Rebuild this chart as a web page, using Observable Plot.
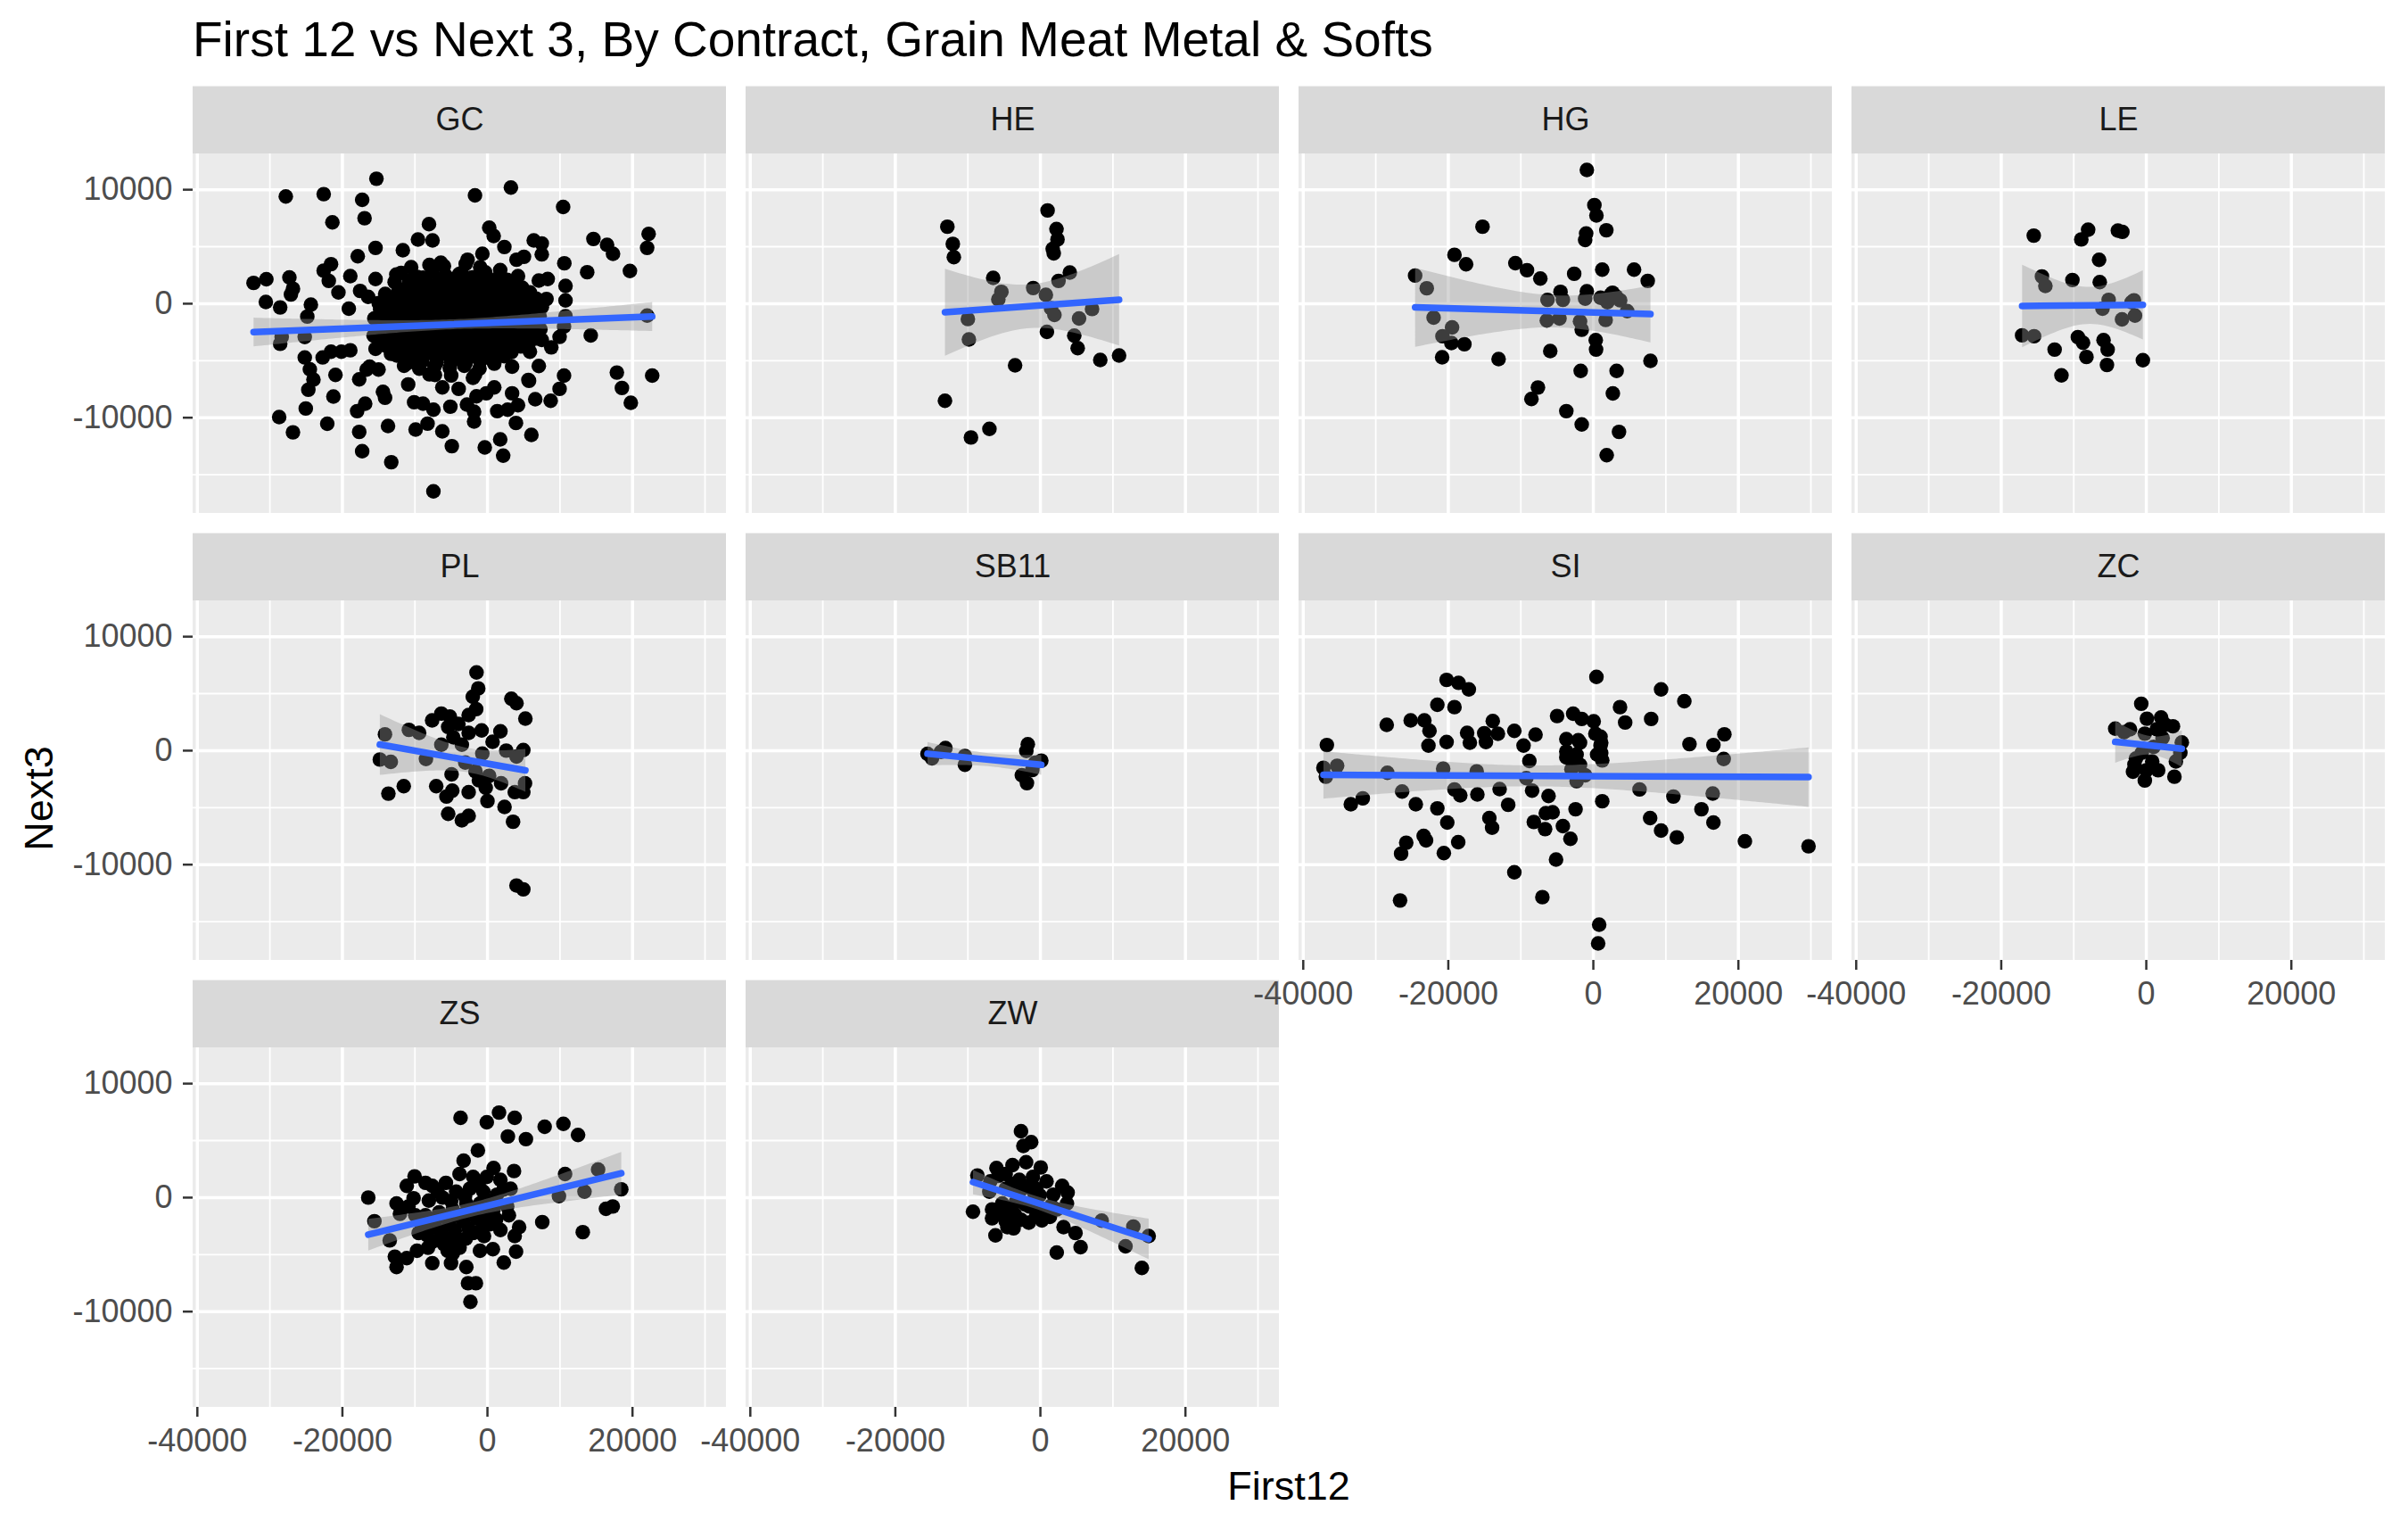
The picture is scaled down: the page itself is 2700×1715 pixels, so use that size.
<!DOCTYPE html>
<html>
<head>
<meta charset="utf-8">
<script src="https://cdn.jsdelivr.net/npm/d3@7"></script>
<script src="https://cdn.jsdelivr.net/npm/@observablehq/plot@0.6"></script>
<style>
  html, body { margin: 0; padding: 0; background: #ffffff; }
  #wrap { position: relative; width: 2700px; height: 1715px; font-family: "Liberation Sans", Arial, sans-serif; }
  #chart { position: absolute; left: 0; top: 0; }
  .title { position: absolute; left: 216px; top: 17px; font-size: 55px; line-height: 1; color: #000; white-space: nowrap; }
  .xlab { position: absolute; left: 1445px; top: 1643px; transform: translateX(-50%); font-size: 45px; line-height: 1; color: #000; white-space: nowrap; }
  .ylab { position: absolute; left: 43px; top: 895px; transform: translate(-50%, -50%) rotate(-90deg); font-size: 45px; line-height: 1; color: #000; white-space: nowrap; }
</style>
</head>
<body>
<div id="wrap">
  <div id="chart"></div>
  <div class="title">First 12 vs Next 3, By Contract, Grain Meat Metal &amp; Softs</div>
  <div class="xlab">First12</div>
  <div class="ylab">Next3</div>
</div>
<script>
// ---- Data: [First12, Next3] pairs per contract ----
const contracts = ["GC", "HE", "HG", "LE", "PL", "SB11", "SI", "ZC", "ZS", "ZW"];

const GC = [
  [-32250,1821],[-30486,2149],[-30557,149],[-28580,-328],[-27805,9403],[-27310,2298],[-26817,1313],[-27100,806],
  [-28370,-2925],[-28580,-3522],[-25193,-2925],[-25193,-4716],[-24488,-5761],[-24700,-7552],[-25052,-9194],
  [-28720,-9940],[-26817,-11283],[-22580,9612],[-21380,7134],[-22580,2896],[-21877,2000],[-24347,-90],[-24841,-1134],
  [-22723,-4716],[-22088,-10537],[-21240,-8149],[-23994,-6657],
  [-15308,10963],[-17273,9114],[-16945,7500],[-1719,9505],[3234,10182],[10437,8489],[-8063,6979],[246,6666],[860,5937],
  [-9578,5625],[-7572,5547],[6385,5547],[7490,5286],[7490,4323],[2333,4974],[-11665,4687],[-15430,4895],[-17886,4166],
  [-21570,3463],[10601,3541],[13753,2760],[14612,5677],[16495,5156],[17313,4375],[22225,6119],[22020,4895],[19646,2864],
  [22020,-1042],[14244,-2786],[17845,-6041],[18541,-7395],[19769,-8697],[22716,-6302],[8800,-3828],[9946,-2916],
  [10560,-2005],[10765,-1094],[10765,286],[10765,1562],[8145,417],[7081,2031],[8309,2161],[10560,-6302],[9946,-7473],
  [8718,-8515],[6590,-8385],[7081,-5468],[5730,-6770],[3929,-10468],[6058,-11510],[1760,-11900],[2169,-13332],
  [-368,-12603],[-1842,-10338],[-4912,-12499],[-7449,-16457],[-6221,-11197],[-8259,-10520],[-9905,-11041],
  [-13712,-10729],[-17682,-11249],[-17273,-12942],[-13262,-13905],[-17968,-9427],[-16863,-8775],[-14407,-7734],
  [-14121,-8255],[-17682,-6640],[-20956,-6250],[-21570,-4218],[-20138,-4218],[-18910,-4088],[-15430,-3958],
  [-15021,-5781],[-16249,-5520],[-10928,-7083],[-10110,-8645],[-8882,-8775],[-7449,-9296],[-5116,-9036],[-2824,-8853],
  [-1842,-9478],[-164,-7864],[1351,-9427],[2783,-9296],[4216,-8906],[5648,-6692],[-1719,-6250],[-3970,-7473],
  [-6221,-7343],[-10724,-4948],[-7245,-6250],[-16658,-5781],[-20547,990],[-19115,-443],[-18910,2422],
  [-17559,1120],[-16454,599],[-15430,2161],[-13794,-52],[-10519,3203],[-6426,3593],[-8882,2291],[-12566,2552],
  [-3561,2682],[-2742,3854],[-696,4375],[1760,2942],[4011,3854],[5034,4114],[4216,2422],[5853,990],[7695,208],
  [6672,-312],[3806,-573],[5853,-2135],[7490,-3177],[5853,-4218],[3397,-5520],[941,-5260],[3397,-7864],[941,-7343],
  [-1514,-8124],
  [-11900,2700],[-9700,2350],[-7600,2800],[-5800,2500],[-3900,2600],[-2100,2300],[-300,2750],[1700,2400],
  [-12800,1900],[-11000,1500],[-8900,1800],[-7200,1600],[-5400,1950],[-3500,1550],[-1700,1850],[200,1600],[2100,1750],[3900,1500],
  [-14100,850],[-12300,1100],[-10600,700],[-8700,1000],[-6900,800],[-5100,1050],[-3300,700],[-1500,950],[300,800],[2000,1000],[3800,700],[5400,950],
  [-15000,50],[-13300,300],[-11500,-100],[-9700,200],[-7900,-50],[-6100,250],[-4200,0],[-2400,200],[-600,-150],[1300,150],[3000,-100],[4700,200],[6300,0],
  [-14800,-500],[-13000,-850],[-11200,-600],[-9400,-800],[-7600,-550],[-5800,-900],[-4000,-650],[-2200,-800],[-400,-550],[1500,-850],[3200,-600],[5000,-750],[6600,-650],
  [-15600,-1300],[-13800,-1650],[-12000,-1400],[-10100,-1550],[-8300,-1350],[-6500,-1700],[-4700,-1450],[-2900,-1600],[-1100,-1350],[800,-1650],[2600,-1450],[4400,-1550],[6200,-1400],
  [-14300,-2450],[-12500,-2200],[-10700,-2350],[-8900,-2150],[-7100,-2500],[-5200,-2250],[-3400,-2400],[-1600,-2200],[200,-2450],[2000,-2300],[3800,-2150],[5700,-2400],[7300,-2250],
  [-15000,-2950],[-13100,-3250],[-11300,-3000],[-9500,-3150],[-7700,-2950],[-5800,-3250],[-4000,-3050],[-2200,-3200],[-300,-2950],[1500,-3150],[3300,-3000],[5100,-3200],[6800,-3050],
  [-13800,-3750],[-11900,-4050],[-10100,-3800],[-8300,-3950],[-6500,-3750],[-4600,-4050],[-2800,-3850],[-1000,-4000],[900,-3800],[2700,-3950],[4600,-3750],
  [-12500,-4550],[-10600,-4850],[-8800,-4600],[-7000,-4750],[-5200,-4550],[-3300,-4850],[-1500,-4650],[400,-4800],[2300,-4600],
  [-11500,-5450],[-9400,-5700],[-7300,-5500],[-5200,-5650],[-3200,-5450],[-1100,-5700],
  [-10800,2000],[-8600,2200],[-6700,2050],[-4800,2150],[-2900,1950],[-1000,2200],[800,2050],[2700,2100],
  [-11800,1200],[-9800,1400],[-8000,1250],[-6200,1350],[-4400,1200],[-2600,1400],[-700,1250],[1100,1300],[3000,1200],[4800,1400],
  [-13200,400],[-11400,600],[-9600,450],[-7800,550],[-6000,400],[-4200,600],[-2400,450],[-500,550],[1300,450],[3100,600],[4900,500],[6700,450],
  [-14100,-400],[-12200,-200],[-10300,-350],[-8500,-250],[-6700,-400],[-4900,-200],[-3100,-350],[-1300,-250],[500,-400],[2300,-200],[4100,-350],[5900,-250],[7500,-300],
  [-14500,-1200],[-12600,-1000],[-10800,-1150],[-9000,-1050],[-7100,-1200],[-5300,-1000],[-3500,-1150],[-1700,-1050],[100,-1200],[1900,-1000],[3700,-1150],[5500,-1050],[7200,-1100],
  [-15100,-2000],[-13200,-1800],[-11400,-1950],[-9600,-1850],[-7800,-2000],[-6000,-1800],[-4200,-1950],[-2300,-1850],[-500,-2000],[1300,-1800],[3100,-1950],[4900,-1850],[6700,-1900],
  [-15700,-2800],[-13900,-2600],[-12000,-2750],[-10200,-2650],[-8400,-2800],[-6600,-2600],[-4700,-2750],[-2900,-2650],[-1100,-2800],[700,-2600],[2500,-2750],[4300,-2650],[6200,-2700],
  [-14400,-3600],[-12600,-3400],[-10800,-3550],[-9000,-3450],[-7100,-3600],[-5300,-3400],[-3500,-3550],[-1700,-3450],[200,-3600],[2000,-3400],[3800,-3550],[5700,-3450],
  [-13300,-4400],[-11400,-4200],[-9600,-4350],[-7800,-4250],[-5900,-4400],[-4100,-4200],[-2300,-4350],[-400,-4250],[1500,-4400],[3300,-4250],
  [-11000,-5200],[-9000,-5050],[-7000,-5150],[-5000,-5100],[-3000,-5200],[-1000,-5050],[900,-5150],
  [-8000,3400],[-6000,3300],[-3000,3500],[-1000,3200],[-8000,-6200],[-5000,-6300],[-2000,-6500]
];

const HE = [
  [-12830,6752],[-12075,5246],[-11934,4077],[991,8181],[2217,6544],[2358,5636],[1698,4805],[1840,4415],[4057,2727],
  [2500,2000],[-6509,2260],[-5377,1039],[-5802,390],[-991,1376],[755,779],[1462,-390],[1934,-987],[7123,-467],
  [5330,-1299],[-10000,-1350],[-9858,-3142],[896,-2467],[4670,-2805],[5142,-3896],[8255,-4934],[10850,-4545],
  [-3491,-5402],[-13160,-8518],[-7028,-10985],[-9575,-11738]
];

const HG = [
  [-896,11738],[142,8648],[425,7739],[1792,6441],[-991,6155],[-1132,5584],[-15283,6752],[-19151,4285],[-17547,3454],
  [-10755,3558],[-9151,2935],[-7311,2208],[-2642,2623],[1226,2987],[5613,2987],[7500,2000],[-24575,2467],[-22972,1350],
  [-4528,1039],[-896,1091],[-6321,338],[-4198,338],[-1132,441],[991,519],[2642,961],[3113,649],[1934,130],[4670,-649],
  [-22028,-1221],[-6415,-1480],[-4670,-1299],[-1840,-1558],[1698,-1428],[-1604,-2285],[-19481,-2078],[-20802,-2857],
  [-19575,-3454],[-17783,-3558],[-20849,-4701],[-13066,-4856],[-5943,-4155],[330,-3194],[377,-4025],[7877,-5012],
  [-1745,-5895],[3208,-5895],[-7641,-7350],[-8538,-8362],[2689,-7869],[-3726,-9427],[-1604,-10596],[3538,-11245],
  [1840,-13297],[2400,800],[3700,300]
];

const LE = [
  [-15519,5973],[-8019,6493],[-8962,5636],[-3915,6415],[-3300,6300],[-6509,3844],[-14387,2389],[-13915,1558],[-10189,2078],
  [-6415,1896],[-5189,338],[-6038,-441],[-2028,130],[-1557,-1039],[-3349,-1376],[-17123,-2779],[-15472,-2857],
  [-9434,-2935],[-8726,-3428],[-12641,-4025],[-5896,-3194],[-5330,-4025],[-8255,-4675],[-5425,-5376],[-472,-4960],
  [-11698,-6285],[-1700,300]
];

const PL = [
  [-1507,6864],[-1272,5460],[-2025,4732],[-1554,3640],[-2590,3120],[3297,4550],[4004,4160],[5228,2808],[-6359,3250],
  [-5181,2990],[-7630,2652],[-5417,2080],[-4004,2340],[-4710,1170],[-2590,1560],[-801,1768],[1790,1690],[707,780],
  [-10833,1820],[-9420,1560],[-14130,1430],[2591,0],[4945,52],[4004,-520],[-8478,-728],[-14837,-780],[-13330,-988],
  [-4946,-2080],[-1178,-2600],[236,-2210],[1884,-2860],[5181,-2860],[-11540,-3120],[-13660,-3770],[-7065,-3120],
  [-5652,-4030],[-4851,-3510],[-2590,-3640],[-236,-3250],[0,-4420],[2355,-4940],[3768,-3640],[4945,-3640],
  [-5417,-5538],[-3533,-6110],[-2590,-5720],[3532,-6240],[4004,-11830],[4945,-12168],[-6359,520],[-3062,-1040],
  [-3533,520],[-1649,-1820],[-707,-260]
];

const SB11 = [
  [-15570,-283],[-14950,-668],[-13092,231],[-13712,-103],[-10408,-463],[-10408,-1234],[-1735,565],[-1941,-26],
  [124,-874],[-1115,-1696],[-2561,-2159],[-1859,-2853],[-702,-1054]
];

const SI = [
  [-20236,6207],[-18585,5947],[-17170,5376],[425,6467],[9340,5376],[12547,4337],[-21510,4025],[-19151,3818],[3679,3818],
  [4387,2467],[7972,2779],[-5000,3038],[-2783,3246],[-1604,2779],[47,2571],[-28491,2259],[-25189,2649],[-23302,2649],
  [-22594,1740],[-13868,2597],[-17406,1558],[-15047,1532],[-13160,1480],[-10896,1740],[-7972,1402],[-22736,441],
  [-20236,753],[-17028,701],[-14811,753],[-9623,441],[-3726,1013],[-2075,909],[283,1480],[991,441],[13255,571],
  [16557,493],[18066,1428],[17972,-727],[-36745,493],[-37217,-1506],[-35330,-1324],[-28397,-1948],[-20708,-1584],
  [-16085,-1818],[-8821,-909],[-9245,-2415],[-3726,-597],[-1840,-1247],[-2311,-2675],[-1132,-2156],[1226,-857],
  [-26368,-3584],[-31792,-4181],[-33443,-4701],[-24481,-4701],[-21510,-5064],[-20142,-6311],[-19151,-3402],
  [-18349,-3922],[-15991,-3844],[-12924,-3376],[-11745,-4753],[-14340,-5921],[-13962,-6752],[-8443,-3506],
  [-6179,-3973],[-8207,-6259],[-6557,-5480],[-5613,-5402],[-6651,-6882],[-4198,-6622],[-3160,-7739],[-2453,-5142],
  [1226,-4441],[6368,-3402],[11038,-4025],[7830,-5921],[9340,-7012],[11509,-7609],[14906,-5142],[16557,-6311],
  [16462,-3766],[20896,-7947],[29670,-8388],[-25802,-8077],[-26509,-9038],[-23066,-7869],[-23396,-7480],
  [-20613,-8986],[-18632,-8025],[-5142,-9557],[-10896,-10674],[-7028,-12855],[-26651,-13141],[802,-15270],
  [660,-16906],[-3019,-1636],[-2311,-338],[1085,-208],[1085,701],[-36887,-2285],
  [-3726,-78],[-2783,-857],[-1840,701],[519,-338],[991,1220]
];

const ZC = [
  [-694,4112],[82,2801],[2041,2904],[3674,2133],[-4286,1928],[-2245,1876],[-204,1491],[1429,1876],[2245,1105],
  [4898,720],[4694,-180],[4082,-951],[-1429,-694],[816,-951],[-1633,-1208],[-1837,-1850],[0,-1722],[1633,-1722],
  [-204,-2621],[3878,-2287],[-3061,1619],[2653,2262],[-612,-180],[1020,334]
];

const ZS = [
  [-3709,6993],[-94,6605],[1596,7459],[3756,6993],[2817,5361],[5305,5128],[7888,6216],[10470,6475],[12489,5491],
  [-1315,4144],[-3287,3238],[3662,2331],[845,2590],[10705,2072],[15259,2461],[18451,725],[13381,518],[9860,130],
  [17278,-777],[16339,-984],[7559,-2150],[13146,-3030],[-16433,0],[-15588,-2072],[-13474,-3756],[-12770,-5180],
  [-12535,-6087],[-11126,-5310],[-7606,-5750],[-5024,-5750],[-2911,-6087],[-2676,-7511],[-1596,-7511],[-2348,-9143],
  [751,-4532],[2254,-5698],[3944,-4740],[3756,-3367],[4366,-2590],[-470,-3367],[-10047,1865],[-11126,1036],
  [-10187,-52],[-12535,-518],[-12066,-1425],[-9484,-3108],[-9719,-4662],[-5493,-4662],[-4319,-3885],
  [-7606,1036],[-5728,1295],[-3850,2072],[-1972,1813],[-94,1813],[1784,1554],[3193,777],[-8076,-259],[-6197,0],
  [-4319,518],[-2441,777],[-563,518],[1315,259],[2723,-777],[-8545,-1554],[-6667,-1295],[-4789,-1036],[-2911,-518],
  [-1033,-518],[845,-1036],[-9014,-2590],[-7136,-2590],[-5258,-2331],[-3380,-2072],[-1502,-1813],[376,-2331],
  [1784,-2849],[-7606,-3885],[-5728,-3626],[-3850,-4403],[-1972,-3108],[-4789,-4921],[-9954,-1554],[-10893,-777],
  [-8545,1295],[2958,-1554],[-1033,-4662],
  [-6900,600],[-5000,-300],[-3100,100],[-1200,1100],[600,-300],[2200,700],[-7800,-1900],[-5900,-1700],[-4000,-1500],
  [-2200,-1200],[-300,-1500],[1200,-1900],[-8300,-3300],[-6400,-3100],[-4500,-2900],[-2600,-2700],[-700,-2600],
  [-3000,-3600],[-6000,-4100],[-8200,-4400]
];

const ZW = [
  [-2676,5828],[-1268,4869],[-2348,4533],[-6057,2590],[-3850,2849],[-1972,3108],[47,2642],[-8686,1943],[-6902,1425],
  [-4789,2072],[-2911,1554],[-1033,1813],[845,1425],[3005,1036],[3756,440],[-7042,518],[-4789,777],[-2911,518],
  [-563,777],[1784,259],[-9296,-1243],[-6667,-1036],[-5258,-518],[-3380,-388],[-1502,-777],[376,-1425],[2254,-1036],
  [-6667,-1813],[-4789,-2072],[-2676,-1943],[-563,-1554],[1315,-1684],[3193,-2590],[-6197,-3315],[-4554,-2590],
  [4836,-3108],[5540,-4351],[2254,-4817],[8451,-2020],[12817,-2538],[14930,-3367],[11738,-4273],[13991,-6164],
  [3662,-518],
  [-5800,1900],[-3900,1200],[-2000,900],[-100,200],[-4000,-1000],[-2100,-600],[-300,-900],[1500,-700],[-5500,-1400],
  [-3500,-1500],[-1600,-2200],[200,-2000],[-3700,-2700],[-800,300]
];

// Axis ticks (ggplot breaks)
const xTicks = [-40000, -20000, 0, 20000];
const xMinorTicks = [-30000, -10000, 10000, 30000];
const yTicks = [-10000, 0, 10000];
const yMinorTicks = [-15000, -5000, 5000];

// Scale limits (data range plus ggplot's 5% expansion)
const xDomain = [-40590, 32950];
const yDomain = [-18398, 13141];

// ---- Build table for Plot ----
const seriesByContract = {GC, HE, HG, LE, PL, SB11, SI, ZC, ZS, ZW};
const panels = contracts.map((c, i) => ({contract: c, col: i % 4, row: Math.floor(i / 4)}));
const points = panels.flatMap(p =>
  seriesByContract[p.contract].map(([x, y]) => ({contract: p.contract, col: p.col, row: p.row, First12: x, Next3: y}))
);

const fmt = d => String(d);
const textColor = "#4d4d4d";

const chart = Plot.plot({
  width: 2700,
  height: 1715,
  marginTop: 171.1,
  marginBottom: 136.2,
  marginLeft: 215.3,
  marginRight: 24.6,
  style: {fontFamily: "'Liberation Sans', Arial, sans-serif", fontSize: "36px", background: "transparent", overflow: "visible"},
  x: {domain: xDomain, label: null},
  y: {domain: yDomain, label: null},
  fx: {domain: [0, 1, 2, 3], paddingInner: 0.0353, paddingOuter: 0, axis: null, label: null},
  fy: {domain: [0, 1, 2], paddingInner: 0.1958, paddingOuter: 0, axis: null, label: null},
  marks: [
    // panel background
    Plot.rect(panels, {fx: "col", fy: "row", x1: () => xDomain[0], x2: () => xDomain[1], y1: () => yDomain[0], y2: () => yDomain[1], fill: "#ebebeb", stroke: "none"}),
    // strip background (above each panel)
    Plot.rect(panels, {fx: "col", fy: "row", x1: () => xDomain[0], x2: () => xDomain[1], y1: () => yDomain[1], y2: () => yDomain[1], insetTop: -75.4, fill: "#d9d9d9", stroke: "none"}),
    Plot.text(panels, {fx: "col", fy: "row", text: "contract", frameAnchor: "top", lineAnchor: "middle", dy: -37.7, fill: "#1a1a1a", fontSize: 36}),
    // grid lines
    Plot.gridX(xMinorTicks, {stroke: "white", strokeOpacity: 1, strokeWidth: 1.8}),
    Plot.gridY(yMinorTicks, {stroke: "white", strokeOpacity: 1, strokeWidth: 1.8}),
    Plot.gridX(xTicks, {stroke: "white", strokeOpacity: 1, strokeWidth: 3.5}),
    Plot.gridY(yTicks, {stroke: "white", strokeOpacity: 1, strokeWidth: 3.5}),
    // points
    Plot.dot(points, {fx: "col", fy: "row", x: "First12", y: "Next3", r: 8.2, fill: "black", stroke: "none"}),
    // linear fit with 95% band
    Plot.linearRegressionY(points, {fx: "col", fy: "row", x: "First12", y: "Next3", stroke: "#3366FF", strokeWidth: 7.5, fill: "#999999", fillOpacity: 0.4, ci: 0.95}),
    // axes
    Plot.axisX(xTicks, {anchor: "bottom", facetAnchor: "bottom-empty", tickSize: 11, tickPadding: 12.5, stroke: "#333333", strokeWidth: 2.5, fill: textColor, fontSize: 36, tickFormat: fmt, label: null}),
    Plot.axisY(yTicks, {anchor: "left", facetAnchor: "left-empty", tickSize: 11, tickPadding: 12, stroke: "#333333", strokeWidth: 2.5, fill: textColor, fontSize: 36, tickFormat: fmt, label: null})
  ]
});

document.getElementById("chart").appendChild(chart);
</script>
</body>
</html>
